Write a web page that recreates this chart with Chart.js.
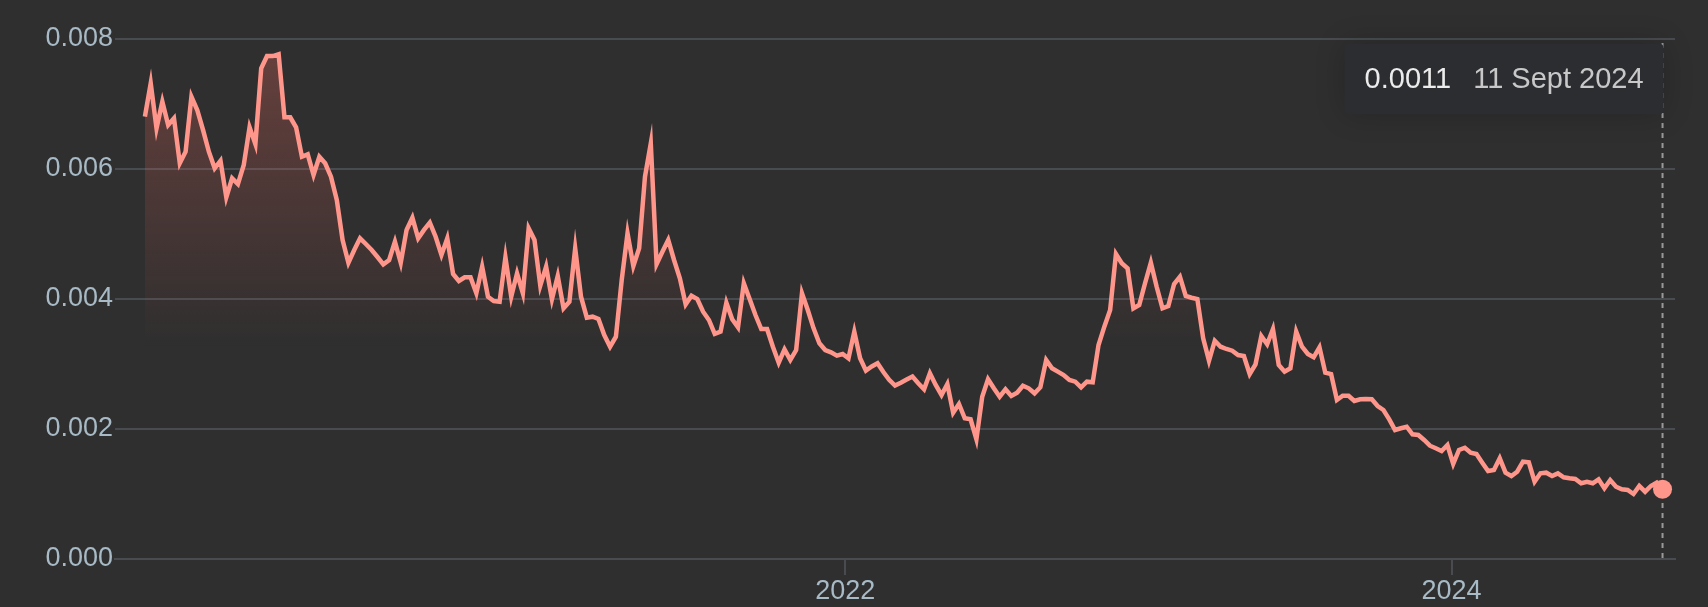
<!DOCTYPE html>
<html>
<head>
<meta charset="utf-8">
<script src="https://cdn.jsdelivr.net/npm/chart.js@4.4.1/dist/chart.umd.min.js"></script>
<style>
    html, body { margin: 0; padding: 0; background: #2f2f2f; }
    #wrap { width: 1708px; height: 607px; }
</style>
</head>
<body>
<div id="wrap"><canvas id="priceChart" width="1708" height="607"></canvas></div>
<script>
// weekly series, first point 11 Sept 2019
const startDate = Date.UTC(2019, 8, 11);
const values = [
    0.006805, 0.007318, 0.006626, 0.007035, 0.006677, 0.006780, 0.006088, 0.006266, 0.007112, 0.006908,
    0.006600, 0.006266, 0.006011, 0.006128, 0.005565, 0.005857, 0.005769, 0.006062, 0.006642, 0.006385,
    0.007549, 0.007738, 0.007738, 0.007765, 0.006795, 0.006795, 0.006642, 0.006189, 0.006226, 0.005908,
    0.006189, 0.006088, 0.005882, 0.005523, 0.004908, 0.004558, 0.004754, 0.004934, 0.004846, 0.004754,
    0.004646, 0.004534, 0.004600, 0.004882, 0.004558, 0.005062, 0.005251, 0.004934, 0.005062, 0.005174,
    0.004958, 0.004677, 0.004934, 0.004385, 0.004277, 0.004334, 0.004334, 0.004088, 0.004497, 0.004035,
    0.003969, 0.003958, 0.004642, 0.004035, 0.004395, 0.004088, 0.005088, 0.004908, 0.004205, 0.004497,
    0.003995, 0.004354, 0.003857, 0.003958, 0.004780, 0.004035, 0.003712, 0.003728, 0.003692, 0.003446,
    0.003266, 0.003420, 0.004292, 0.005011, 0.004508, 0.004780, 0.005882, 0.006395, 0.004538, 0.004728,
    0.004908, 0.004600, 0.004318, 0.003918, 0.004051, 0.004000, 0.003805, 0.003677, 0.003462, 0.003497,
    0.003943, 0.003688, 0.003565, 0.004242, 0.004000, 0.003754, 0.003538, 0.003538, 0.003266, 0.003020,
    0.003226, 0.003062, 0.003215, 0.004088, 0.003831, 0.003549, 0.003318, 0.003215, 0.003180, 0.003128,
    0.003154, 0.003088, 0.003497, 0.003088, 0.002897, 0.002962, 0.003011, 0.002877, 0.002757, 0.002668,
    0.002712, 0.002760, 0.002808, 0.002703, 0.002611, 0.002857, 0.002677, 0.002523, 0.002692, 0.002251,
    0.002385, 0.002165, 0.002149, 0.001842, 0.002497, 0.002765, 0.002626, 0.002497, 0.002611, 0.002508,
    0.002558, 0.002666, 0.002626, 0.002549, 0.002642, 0.003062, 0.002934, 0.002882, 0.002831, 0.002754,
    0.002728, 0.002642, 0.002728, 0.002718, 0.003292, 0.003574, 0.003831, 0.004692, 0.004549, 0.004472,
    0.003857, 0.003908, 0.004242, 0.004558, 0.004189, 0.003857, 0.003892, 0.004231, 0.004343, 0.004046,
    0.004020, 0.004000, 0.003395, 0.003051, 0.003358, 0.003266, 0.003231, 0.003205, 0.003138, 0.003123,
    0.002846, 0.002995, 0.003431, 0.003303, 0.003538, 0.002985, 0.002882, 0.002934, 0.003497, 0.003266,
    0.003154, 0.003103, 0.003257, 0.002866, 0.002846, 0.002446, 0.002512, 0.002512, 0.002431, 0.002457,
    0.002462, 0.002457, 0.002354, 0.002292, 0.002149, 0.001985, 0.002011, 0.002035, 0.001918, 0.001908,
    0.001831, 0.001743, 0.001703, 0.001662, 0.001754, 0.001462, 0.001677, 0.001712, 0.001635, 0.001615,
    0.001482, 0.001354, 0.001369, 0.001549, 0.001328, 0.001277, 0.001343, 0.001497, 0.001488, 0.001189,
    0.001318, 0.001328, 0.001277, 0.001318, 0.001257, 0.001242, 0.001231, 0.001165, 0.001189, 0.001165,
    0.001226, 0.001088, 0.001215, 0.001112, 0.001072, 0.001062, 0.001000, 0.001123, 0.001035, 0.001123,
    0.001174, 0.001072
];
const yearTicks = [Date.UTC(2022, 0, 1), Date.UTC(2024, 0, 1)];
const yearLabels = ['2022', '2024'];
const yTicks = [0, 0.002, 0.004, 0.006, 0.008];
const monthNames = ['Jan', 'Feb', 'Mar', 'Apr', 'May', 'June', 'July', 'Aug', 'Sept', 'Oct', 'Nov', 'Dec'];

const WEEK = 7 * 24 * 3600 * 1000;
const dates = values.map((v, i) => startDate + i * WEEK);
const last = values.length - 1;

const lineColor = '#ff968b';
const gridColor = '#484b50';
const labelColor = '#a7bac5';
const fontFamily = '"Liberation Sans", Arial, sans-serif';

function formatDate(ms) {
    const d = new Date(ms);
    return d.getUTCDate() + ' ' + monthNames[d.getUTCMonth()] + ' ' + d.getUTCFullYear();
}

// dashed marker line + fixed tooltip on the latest point
const latestTip = {
    id: 'latestTip',
    beforeDatasetsDraw(chart) {
        const pt = chart.getDatasetMeta(0).data[last];
        const {ctx, chartArea} = chart;
        ctx.save();
        ctx.strokeStyle = '#9a9a9a';
        ctx.lineWidth = 2;
        ctx.setLineDash([5, 5]);
        ctx.beginPath();
        ctx.moveTo(pt.x, chartArea.top + 4);
        ctx.lineTo(pt.x, chartArea.bottom);
        ctx.stroke();
        ctx.restore();
    },
    afterDraw(chart) {
        const pt = chart.getDatasetMeta(0).data[last];
        const {ctx, chartArea} = chart;
        const valueText = values[last].toFixed(4);
        const dateText = formatDate(dates[last]);

        ctx.save();
        ctx.font = '29px ' + fontFamily;
        const w1 = ctx.measureText(valueText).width;
        const w2 = ctx.measureText(dateText).width;
        const padX = 20, gap = 22, h = 70;
        const w = padX + w1 + gap + w2 + padX;
        const right = pt.x + 1;
        const top = chartArea.top + 5;

        ctx.shadowColor = 'rgba(0, 0, 0, 0.2)';
        ctx.shadowBlur = 30;
        ctx.fillStyle = '#2c2d31';
        ctx.beginPath();
        ctx.roundRect(right - w, top, w, h, 4);
        ctx.fill();
        ctx.shadowColor = 'transparent';

        ctx.textBaseline = 'middle';
        ctx.textAlign = 'left';
        ctx.fillStyle = '#ececec';
        ctx.fillText(valueText, right - w + padX, top + h / 2 + 1);
        ctx.fillStyle = '#c8c8c8';
        ctx.fillText(dateText, right - padX - w2, top + h / 2 + 1);
        ctx.restore();
    }
};

const ctx = document.getElementById('priceChart').getContext('2d');
window.priceChart = new Chart(ctx, {
    type: 'line',
    data: {
        datasets: [{
            data: values.map((v, i) => ({x: dates[i], y: v})),
            borderColor: lineColor,
            borderWidth: 4.5,
            tension: 0,
            fill: 'origin',
            backgroundColor: function(context) {
                const chart = context.chart;
                const area = chart.chartArea;
                if (!area) return 'transparent';
                const yEnd = chart.scales.y.getPixelForValue(0.00325);
                const g = chart.ctx.createLinearGradient(0, area.top, 0, yEnd);
                g.addColorStop(0, 'rgba(255, 112, 100, 0.28)');
                g.addColorStop(1, 'rgba(255, 112, 100, 0)');
                return g;
            },
            pointRadius: c => c.dataIndex === last ? 9.5 : 0,
            pointBackgroundColor: lineColor,
            pointBorderWidth: 0
        }]
    },
    options: {
        responsive: false,
        animation: false,
        events: [],
        devicePixelRatio: 1,
        layout: {
            padding: {top: 39, right: 33, bottom: 0, left: 0}
        },
        scales: {
            x: {
                type: 'linear',
                min: Date.UTC(2019, 7, 6),
                max: Date.UTC(2024, 8, 26),
                afterBuildTicks: axis => {
                    axis.ticks = yearTicks.map(v => ({value: v}));
                },
                afterFit: axis => { axis.height = 48; },
                grid: {
                    drawOnChartArea: false,
                    drawTicks: true,
                    tickLength: 16,
                    color: gridColor,
                    lineWidth: 2
                },
                border: {display: true, color: gridColor, width: 2},
                ticks: {
                    autoSkip: false,
                    maxRotation: 0,
                    padding: 0,
                    color: labelColor,
                    font: {family: fontFamily, size: 27},
                    callback: (value, index) => yearLabels[index]
                }
            },
            y: {
                min: 0,
                max: 0.008,
                afterBuildTicks: axis => {
                    axis.ticks = yTicks.map(v => ({value: v}));
                },
                afterFit: axis => { axis.width = 115; },
                grid: {
                    drawTicks: false,
                    color: gridColor,
                    lineWidth: 2
                },
                border: {display: false},
                ticks: {
                    padding: 2,
                    color: labelColor,
                    font: {family: fontFamily, size: 27},
                    callback: value => value.toFixed(3)
                }
            }
        },
        plugins: {
            legend: {display: false},
            tooltip: {enabled: false}
        }
    },
    plugins: [latestTip]
});
</script>
</body>
</html>
